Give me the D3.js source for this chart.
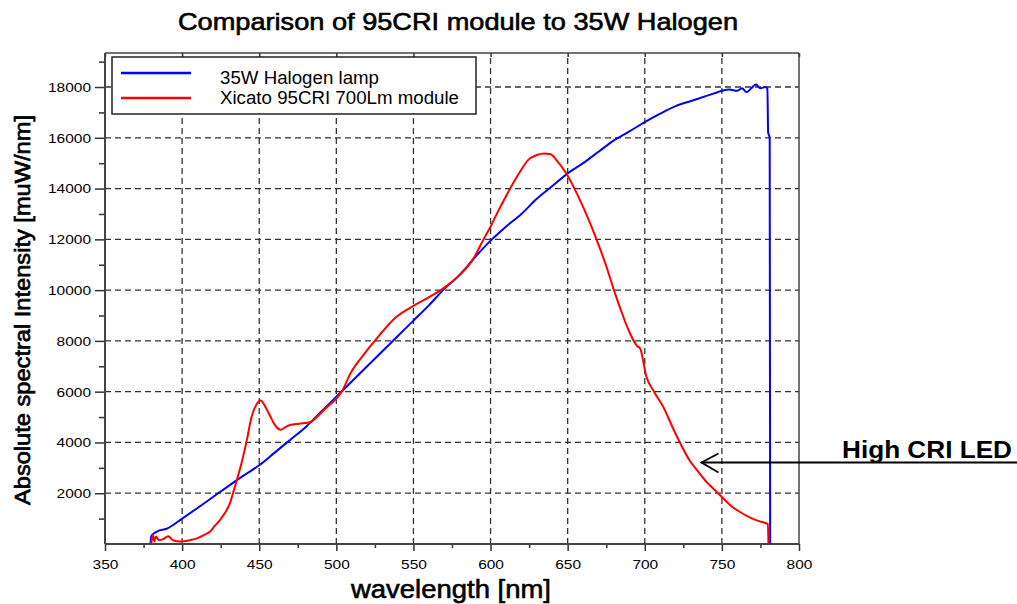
<!DOCTYPE html>
<html><head><meta charset="utf-8">
<script src="https://cdn.jsdelivr.net/npm/d3@7"></script>
<style>body{margin:0;background:#fff}svg{display:block}text{font-family:"Liberation Sans",Arial,sans-serif}</style>
</head><body><svg id="c" width="1017" height="604"></svg>
<script>
// ---- data ----
const chartTitle = "Comparison of 95CRI module to 35W Halogen";
const xLabel = "wavelength [nm]";
const yLabel = "Absolute spectral Intensity [muW/nm]";
const seriesNames = ["35W Halogen lamp", "Xicato 95CRI 700Lm module"];
const xTicks = [350,400,450,500,550,600,650,700,750,800];
const yTicks = [2000,4000,6000,8000,10000,12000,14000,16000,18000];

const halogenWl  = [379.5,380,381,384,390,400,410,420,430,440,450,460,470,480,490,500,510,520,530,540,550,560,570,580,590,600,610,620,630,640,650,660,670,680,690,700,710,720,730,740,745,750,755,760,763,766,769,772,775,778,779.5,780,781,781.3];
const halogenVal = [0,300,380,500,600,1000,1420,1850,2280,2700,3100,3600,4100,4600,5200,5800,6400,7000,7600,8200,8800,9400,10050,10600,11300,11950,12500,13000,13600,14100,14600,15000,15450,15900,16250,16620,16950,17250,17450,17650,17750,17850,17900,17850,17950,17800,17950,18100,17950,18000,17950,16200,16000,0];

const ledWl  = [380,381,382,383,385,388,391,394,399,405,410,415,418,421,425,428,431,433,435.5,438.5,442,445,448,451,454,457,460,464,467,470,476,483,489,494,498,504,509,517,528,539,550,561,570,580,589,595,600,604,610,615,620,624,630,635,639,643,649,656,662,669,675,680,684,690,695,697,701,706,712,718,723,729,734,740,745,750,756,762,768,774,779.8,780.2];
const ledVal = [0,350,100,300,150,200,310,150,100,150,230,380,480,700,980,1250,1600,2000,2520,3180,4100,5000,5470,5650,5400,5050,4700,4500,4600,4690,4740,4800,5100,5400,5600,6050,6700,7400,8230,8950,9380,9750,10100,10600,11250,11950,12500,13000,13700,14250,14750,15100,15320,15380,15350,15100,14600,13800,13000,11950,10950,10000,9300,8350,7800,7700,6600,6000,5400,4600,3970,3300,2900,2450,2150,1850,1500,1250,1050,900,780,0];

// ---- layout ----
const svg = d3.select("#c");
const L = 105, R = 799, T = 53, B = 544;
const x = d3.scaleLinear().domain([350, 800]).range([L, R]);
const y = d3.scaleLinear().domain([0, 19340]).range([B, T]);

function fit(sel, w){ sel.attr("textLength", w).attr("lengthAdjust", "spacingAndGlyphs"); }

// gridlines
const grid = svg.append("g").attr("stroke", "#333").attr("stroke-width", 1.3).attr("stroke-dasharray", "6,4");
grid.selectAll("line.v").data(xTicks.filter(v => v > 350 && v < 800)).join("line")
  .attr("x1", d => x(d)).attr("x2", d => x(d)).attr("y1", B).attr("y2", T);
grid.selectAll("line.h").data(yTicks).join("line")
  .attr("y1", d => y(d)).attr("y2", d => y(d)).attr("x1", L).attr("x2", R);

// axes
const yMinor = d3.range(1000, 19340, 2000);
const xMinor = d3.range(375, 800, 50);
const axY = svg.append("g").attr("transform", `translate(${L},0)`)
  .call(d3.axisLeft(y).tickValues(yTicks).tickSize(10).tickPadding(4).tickFormat(d3.format("d")));
const axYm = svg.append("g").attr("transform", `translate(${L},0)`)
  .call(d3.axisLeft(y).tickValues(yMinor).tickSize(6).tickFormat(""));
const axX = svg.append("g").attr("transform", `translate(0,${B})`)
  .call(d3.axisBottom(x).tickValues(xTicks).tickSize(7).tickPadding(8).tickFormat(d3.format("d")));
const axXm = svg.append("g").attr("transform", `translate(0,${B})`)
  .call(d3.axisBottom(x).tickValues(xMinor).tickSize(4).tickFormat(""));
const axTop = svg.append("g").attr("transform", `translate(0,${T})`)
  .call(d3.axisBottom(x).tickValues(xTicks).tickSize(4).tickFormat(""));
[axY, axYm, axX, axXm, axTop].forEach(a => {
  a.select(".domain").remove();
  a.selectAll(".tick line").attr("stroke", "#333").attr("stroke-width", 1.5);
  a.selectAll("text").attr("font-family", '"Liberation Sans",Arial,sans-serif').attr("fill", "#000").attr("font-size", 13.5);
});
axY.selectAll(".tick text").each(function(){ const s = d3.select(this); fit(s, s.text().length * 8.6); });
axX.selectAll(".tick text").each(function(){ const s = d3.select(this); fit(s, s.text().length * 8.6); });

// frame
svg.append("line").attr("x1", L).attr("x2", L).attr("y1", T).attr("y2", B).attr("stroke", "#444").attr("stroke-width", 2);
svg.append("line").attr("x1", L).attr("x2", R).attr("y1", B).attr("y2", B).attr("stroke", "#444").attr("stroke-width", 2);
svg.append("line").attr("x1", L).attr("x2", R).attr("y1", T).attr("y2", T).attr("stroke", "#444").attr("stroke-width", 1.5);
svg.append("line").attr("x1", R).attr("x2", R).attr("y1", T).attr("y2", B).attr("stroke", "#444").attr("stroke-width", 1.5);

// curves
const line = d3.line().x(d => x(d[0])).y(d => y(d[1])).curve(d3.curveMonotoneX);
svg.append("path").datum(halogenWl.map((w, i) => [w, halogenVal[i]]))
  .attr("d", line).attr("fill", "none").attr("stroke", "#0000ff").attr("stroke-width", 2);
svg.append("path").datum(ledWl.map((w, i) => [w, ledVal[i]]))
  .attr("d", line).attr("fill", "none").attr("stroke", "#ff0000").attr("stroke-width", 2);

// legend
const lg = svg.append("g");
lg.append("rect").attr("x", 112).attr("y", 57).attr("width", 364).attr("height", 57)
  .attr("fill", "#fff").attr("stroke", "#222").attr("stroke-width", 1.5);
const legColors = ["#0000ff", "#ff0000"];
const legY = [73, 98], legTY = [84, 103.5], legW = [159, 239];
seriesNames.forEach((n, i) => {
  lg.append("line").attr("x1", 121).attr("x2", 191).attr("y1", legY[i]).attr("y2", legY[i])
    .attr("stroke", legColors[i]).attr("stroke-width", 2.5);
  fit(lg.append("text").attr("x", 220).attr("y", legTY[i]).attr("font-size", 17.5).text(n), legW[i]);
});

// titles
fit(svg.append("text").attr("x", 458).attr("y", 30).attr("text-anchor", "middle")
  .attr("font-size", 24).attr("stroke", "#000").attr("stroke-width", 0.6).text(chartTitle), 560);
fit(svg.append("text").attr("x", 451).attr("y", 598).attr("text-anchor", "middle")
  .attr("font-size", 25).attr("stroke", "#000").attr("stroke-width", 0.6).text(xLabel), 200);
fit(svg.append("text").attr("transform", "translate(30,310) rotate(-90)").attr("text-anchor", "middle")
  .attr("font-size", 22).attr("stroke", "#000").attr("stroke-width", 0.7).text(yLabel), 390);

// annotation
svg.append("line").attr("x1", 1017).attr("x2", 701).attr("y1", 462.5).attr("y2", 462.5).attr("stroke", "#000").attr("stroke-width", 2);
svg.append("path").attr("d", "M718.5,453.5 L701.5,462.5 L718.5,472.5").attr("fill", "none").attr("stroke", "#000").attr("stroke-width", 1.8);
fit(svg.append("text").attr("x", 842).attr("y", 458).attr("font-size", 24).attr("font-weight", "bold").text("High CRI LED"), 170);
</script></body></html>
